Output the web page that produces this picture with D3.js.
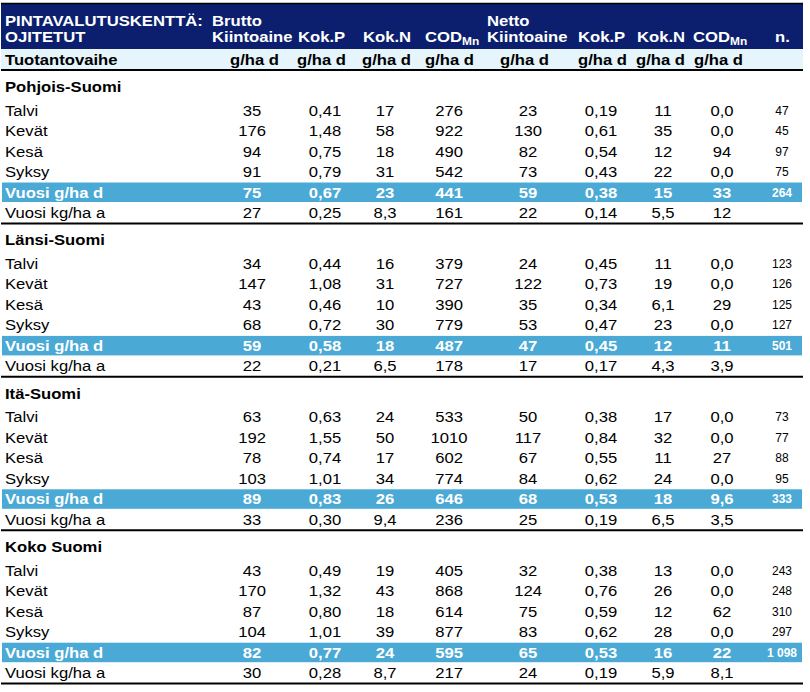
<!DOCTYPE html>
<html>
<head>
<meta charset="utf-8">
<script src="https://cdn.jsdelivr.net/npm/d3@7"></script>
<style>
  body { margin: 0; background: #fff; }
  svg { display: block; font-family: Arial, "Liberation Sans", sans-serif; }
</style>
</head>
<body>
<div id="chart"></div>
<script>
// table content
var regions = ['Pohjois-Suomi', 'Länsi-Suomi', 'Itä-Suomi', 'Koko Suomi'];
var phases = ['Talvi', 'Kevät', 'Kesä', 'Syksy', 'Vuosi g/ha d', 'Vuosi kg/ha a'];
var colKeys = ['bKii', 'bP', 'bN', 'bCod', 'nKii', 'nP', 'nN', 'nCod', 'n'];
var headTop = ['Brutto', '', '', '', 'Netto', '', '', '', ''];
var headMain = ['Kiintoaine', 'Kok.P', 'Kok.N', 'COD', 'Kiintoaine', 'Kok.P', 'Kok.N', 'COD', 'n.'];
var units = ['g/ha d', 'g/ha d', 'g/ha d', 'g/ha d', 'g/ha d', 'g/ha d', 'g/ha d', 'g/ha d', ''];

var pohjoisValues = [
  ['35', '0,41', '17', '276', '23', '0,19', '11', '0,0', '47'],
  ['176', '1,48', '58', '922', '130', '0,61', '35', '0,0', '45'],
  ['94', '0,75', '18', '490', '82', '0,54', '12', '94', '97'],
  ['91', '0,79', '31', '542', '73', '0,43', '22', '0,0', '75'],
  ['75', '0,67', '23', '441', '59', '0,38', '15', '33', '264'],
  ['27', '0,25', '8,3', '161', '22', '0,14', '5,5', '12', '']
];
var lansiValues = [
  ['34', '0,44', '16', '379', '24', '0,45', '11', '0,0', '123'],
  ['147', '1,08', '31', '727', '122', '0,73', '19', '0,0', '126'],
  ['43', '0,46', '10', '390', '35', '0,34', '6,1', '29', '125'],
  ['68', '0,72', '30', '779', '53', '0,47', '23', '0,0', '127'],
  ['59', '0,58', '18', '487', '47', '0,45', '12', '11', '501'],
  ['22', '0,21', '6,5', '178', '17', '0,17', '4,3', '3,9', '']
];
var itaValues = [
  ['63', '0,63', '24', '533', '50', '0,38', '17', '0,0', '73'],
  ['192', '1,55', '50', '1010', '117', '0,84', '32', '0,0', '77'],
  ['78', '0,74', '17', '602', '67', '0,55', '11', '27', '88'],
  ['103', '1,01', '34', '774', '84', '0,62', '24', '0,0', '95'],
  ['89', '0,83', '26', '646', '68', '0,53', '18', '9,6', '333'],
  ['33', '0,30', '9,4', '236', '25', '0,19', '6,5', '3,5', '']
];
var kokoValues = [
  ['43', '0,49', '19', '405', '32', '0,38', '13', '0,0', '243'],
  ['170', '1,32', '43', '868', '124', '0,76', '26', '0,0', '248'],
  ['87', '0,80', '18', '614', '75', '0,59', '12', '62', '310'],
  ['104', '1,01', '39', '877', '83', '0,62', '28', '0,0', '297'],
  ['82', '0,77', '24', '595', '65', '0,53', '16', '22', '1 098'],
  ['30', '0,28', '8,7', '217', '24', '0,19', '5,9', '8,1', '']
];
var regionValues = [pohjoisValues, lansiValues, itaValues, kokoValues];

var width = 810, height = 692;
var left = 1, right = 803;
var navy = '#0b1f6e', lightRow = '#e5f5fb', band = '#4aa9d5';
var hStretch = 1.19, bStretch = 1.11;   // the original screenshot is a bit wide

var svg = d3.select('#chart').append('svg')
  .attr('width', width)
  .attr('height', height);

// text helper: position via transform so the glyphs can be widened
function place(sel, x, y, sx) {
  return sel.attr('transform', 'translate(' + x + ',' + y + ') scale(' + sx + ',1)');
}

// column centres for values, header left positions
var colCenter = {bKii: 252, bP: 325, bN: 385, bCod: 449, nKii: 528, nP: 601, nN: 663, nCod: 722, n: 782};
var headX = {bKii: 212, bP: 298, bN: 363, bCod: 425, nKii: 487, nP: 578, nN: 637, nCod: 693, n: 775};
var unitX = {bKii: 230, bP: 297, bN: 362, bCod: 425, nKii: 500, nP: 578, nN: 636, nCod: 694, n: 775};

// vertical layout
var sectionTop = 70, sectionH = 153.4;
var ySection = d3.scaleLinear().domain([0, regions.length]).range([sectionTop, sectionTop + sectionH * regions.length]);
var yRow = d3.scaleBand().domain(phases).range([29.5, 29.5 + 20.5 * phases.length]);

// ---- header ----
svg.append('rect').attr('x', left).attr('y', 4).attr('width', right - left).attr('height', 46).attr('fill', navy);
svg.append('rect').attr('x', left).attr('y', 49).attr('width', right - left).attr('height', 20).attr('fill', lightRow);
svg.append('line').attr('x1', left).attr('x2', right).attr('y1', 3.5).attr('y2', 3.5).attr('stroke', '#000').attr('stroke-width', 1.5);

var hdr = svg.append('g').attr('fill', '#fff').style('font-weight', 'bold').style('font-size', '14px');
place(hdr.append('text').text('PINTAVALUTUSKENTTÄ:'), 5, 26, hStretch);
place(hdr.append('text').text('OJITETUT'), 5, 42, hStretch);

colKeys.forEach(function(k, i) {
  if (headTop[i]) {
    place(hdr.append('text').text(headTop[i]), headX[k], 26, hStretch);
  }
  var t = place(hdr.append('text').text(headMain[i]), headX[k], 42, hStretch);
  if (headMain[i] === 'COD') {
    t.append('tspan').attr('dy', 3).style('font-size', '10px').text('Mn');
  }
});

var unitG = svg.append('g').attr('fill', '#000').style('font-weight', 'bold').style('font-size', '14px');
place(unitG.append('text').text('Tuotantovaihe'), 5, 65, hStretch);
colKeys.forEach(function(k, i) {
  if (units[i]) place(unitG.append('text').text(units[i]), unitX[k], 65, 1.19);
});

svg.append('line').attr('x1', left).attr('x2', right).attr('y1', 70).attr('y2', 70).attr('stroke', '#000').attr('stroke-width', 2);

// ---- sections ----
regions.forEach(function(reg, ri) {
  var top = ySection(ri);
  var g = svg.append('g').attr('transform', 'translate(0,' + top + ')');

  place(g.append('text'), 5, 22, bStretch)
    .style('font-weight', 'bold').style('font-size', '15px')
    .text(reg);

  var rows = g.selectAll('g.row')
    .data(phases.map(function(p, i) { return {phase: p, vals: regionValues[ri][i], total: i === 4}; }))
    .enter().append('g')
    .attr('class', 'row')
    .attr('transform', function(d) { return 'translate(0,' + yRow(d.phase) + ')'; });

  rows.filter(function(d) { return d.total; })
    .append('rect')
    .attr('x', left + 1).attr('y', 1)
    .attr('width', right - left - 2).attr('height', yRow.bandwidth() - 1)
    .attr('fill', band);

  rows.append('text')
    .attr('transform', 'translate(5,16) scale(' + bStretch + ',1)')
    .attr('fill', function(d) { return d.total ? '#fff' : '#000'; })
    .style('font-weight', function(d) { return d.total ? 'bold' : 'normal'; })
    .style('font-size', '15px')
    .text(function(d) { return d.phase; });

  rows.each(function(d) {
    d3.select(this).selectAll('text.val')
      .data(d.vals)
      .enter().append('text')
      .attr('class', 'val')
      .attr('transform', function(v, i) {
        var isN = colKeys[i] === 'n';
        return 'translate(' + colCenter[colKeys[i]] + ',' + (isN ? 15 : 16) + ') scale(' + (isN ? 1 : bStretch) + ',1)';
      })
      .attr('text-anchor', 'middle')
      .attr('fill', d.total ? '#fff' : '#000')
      .style('font-weight', d.total ? 'bold' : 'normal')
      .style('font-size', function(v, i) { return colKeys[i] === 'n' ? '12px' : '15px'; })
      .text(function(v) { return v; });
  });

  g.append('line')
    .attr('x1', left).attr('x2', right)
    .attr('y1', sectionH).attr('y2', sectionH)
    .attr('stroke', '#000').attr('stroke-width', 2);
});
</script>
</body>
</html>
